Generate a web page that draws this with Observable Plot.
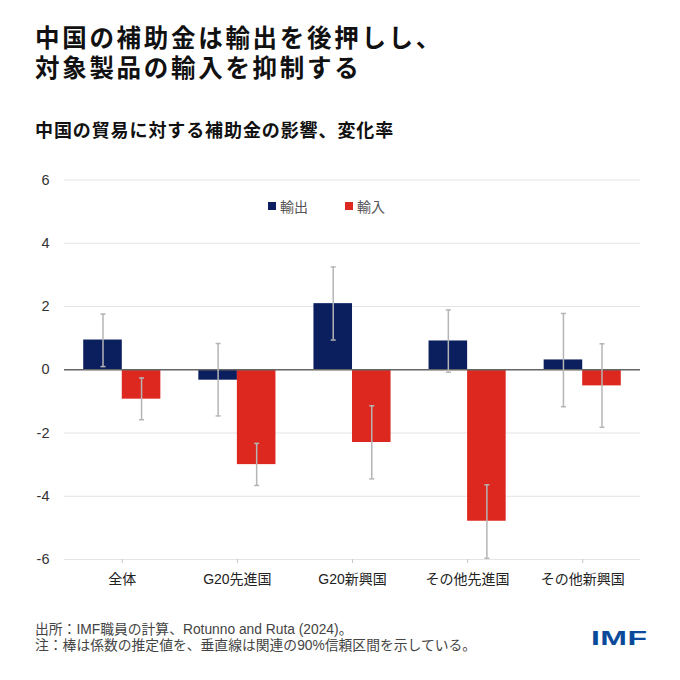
<!DOCTYPE html>
<html>
<head>
<meta charset="utf-8">
<script src="https://cdn.jsdelivr.net/npm/d3@7"></script>
<script src="https://cdn.jsdelivr.net/npm/@observablehq/plot@0.6"></script>
<style>
  html, body { margin: 0; padding: 0; background: #fff; }
  #wrap { position: relative; width: 680px; height: 680px; overflow: hidden; font-family: "Noto Sans CJK JP", "Noto Sans", sans-serif; }
  .title { position: absolute; left: 35px; font-family: "Liberation Sans", "Noto Sans CJK JP", sans-serif; font-size: 24.5px; font-weight: 700; line-height: 29px; height: 29px; color: #111; white-space: nowrap; letter-spacing: 2.7px; }
  #title1 { top: 24px; }
  #title2 { top: 53.5px; }
  #subtitle { position: absolute; left: 35px; top: 117px; font-size: 18px; font-weight: 700; color: #111; white-space: nowrap; line-height: 24px; letter-spacing: 0.9px; }
  #chart { position: absolute; left: 0; top: 160px; }
  #legend { position: absolute; top: 196px; left: 268px; font-size: 14px; color: #555; display: flex; gap: 37px; line-height: 20px; }
  #legend span.item { display: flex; align-items: center; }
  #legend i { display: inline-block; width: 8px; height: 8px; margin-right: 4px; }
  .foot { position: absolute; left: 35px; font-family: "Liberation Sans", "Noto Sans CJK JP", sans-serif; font-size: 13.8px; color: #444; line-height: 15px; height: 15px; white-space: nowrap; }
  #foot1 { top: 622px; }
  #foot2 { top: 637.5px; }
  #logo { position: absolute; left: 591px; top: 627px; font-family: "Liberation Sans", Arial, sans-serif; font-weight: 700; font-size: 20px; color: #0b4a9a; transform: scaleX(1.6); transform-origin: left top; letter-spacing: 0.3px; }
</style>
</head>
<body>
<div id="wrap">
  <div class="title" id="title1">中国の補助金は輸出を後押しし、</div>
  <div class="title" id="title2">対象製品の輸入を抑制する</div>
  <div id="subtitle">中国の貿易に対する補助金の影響、変化率</div>
  <div id="chart"></div>
  <div id="legend"></div>
  <div class="foot" id="foot1">出所：IMF職員の計算、Rotunno and Ruta (2024)。</div>
  <div class="foot" id="foot2">注：棒は係数の推定値を、垂直線は関連の90%信頼区間を示している。</div>
  <div id="logo">IMF</div>
</div>
<script>
const categories = ["全体", "G20先進国", "G20新興国", "その他先進国", "その他新興国"];
const seriesNames = ["輸出", "輸入"];
const seriesColors = ["#0b1f5e", "#dc281e"];
const exportsVal = [0.94, -0.33, 2.09, 0.91, 0.31];
const exportsLo  = [0.10, -1.46, 0.94, -0.08, -1.17];
const exportsHi  = [1.76, 0.83, 3.25, 1.89, 1.78];
const importsVal = [-0.93, -3.00, -2.30, -4.79, -0.51];
const importsLo  = [-1.58, -3.66, -3.45, -5.96, -1.82];
const importsHi  = [-0.26, -2.33, -1.14, -3.64, 0.82];
const yTicks = [-6, -4, -2, 0, 2, 4, 6];

const expData = categories.map((c, i) => ({cat: c, v: exportsVal[i], lo: exportsLo[i], hi: exportsHi[i]}));
const impData = categories.map((c, i) => ({cat: c, v: importsVal[i], lo: importsLo[i], hi: importsHi[i]}));

const half = 38.55; // half of band width in px
const off = half / 2;
const errColor = "#b5b5b5";
const capSymbol = { draw(ctx, size) { const r = Math.sqrt(size / Math.PI); ctx.moveTo(-r, 0); ctx.lineTo(r, 0); } };
const axisFont = "Liberation Sans, Noto Sans CJK JP, sans-serif";

const chart = Plot.plot({
  width: 680,
  height: 440,
  marginLeft: 64,
  marginRight: 40,
  marginTop: 19.5,
  marginBottom: 41,
  style: { fontFamily: axisFont, fontSize: "14px", background: "transparent" },
  x: { domain: categories, paddingInner: 0.33, paddingOuter: 0.167, round: false, axis: null },
  y: { domain: [-6, 6], axis: null },
  marks: [
    Plot.ruleY(yTicks, { stroke: "#e4e4e4", strokeWidth: 1 }),
    Plot.barY(expData, { x: "cat", y: "v", fill: seriesColors[0], insetRight: half }),
    Plot.barY(impData, { x: "cat", y: "v", fill: seriesColors[1], insetLeft: half }),
    Plot.ruleY([0], { stroke: "#666", strokeWidth: 1.3 }),
    Plot.ruleX(expData, { x: "cat", y1: "lo", y2: "hi", dx: -off, stroke: errColor, strokeWidth: 1.5 }),
    Plot.ruleX(impData, { x: "cat", y1: "lo", y2: "hi", dx: off, stroke: errColor, strokeWidth: 1.5 }),
    Plot.dot(expData, { x: "cat", y: "lo", dx: -off, symbol: capSymbol, r: 2.5, stroke: errColor, strokeWidth: 1.5, fill: "none" }),
    Plot.dot(expData, { x: "cat", y: "hi", dx: -off, symbol: capSymbol, r: 2.5, stroke: errColor, strokeWidth: 1.5, fill: "none" }),
    Plot.dot(impData, { x: "cat", y: "lo", dx: off, symbol: capSymbol, r: 2.5, stroke: errColor, strokeWidth: 1.5, fill: "none" }),
    Plot.dot(impData, { x: "cat", y: "hi", dx: off, symbol: capSymbol, r: 2.5, stroke: errColor, strokeWidth: 1.5, fill: "none" }),
    Plot.axisY(yTicks, { tickSize: 0, tickPadding: 15, tickFormat: d => String(d), fill: "#333", fontSize: 14.5, label: null }),
    Plot.axisX({ tickSize: 4, tickPadding: 11, stroke: "#c8c8c8", fill: "#222", fontSize: 14, label: null })
  ]
});
document.getElementById("chart").appendChild(chart);

const legend = document.getElementById("legend");
seriesNames.forEach((name, i) => {
  const s = document.createElement("span");
  s.className = "item";
  s.innerHTML = `<i style="background:${seriesColors[i]}"></i>${name}`;
  legend.appendChild(s);
});
</script>
</body>
</html>
